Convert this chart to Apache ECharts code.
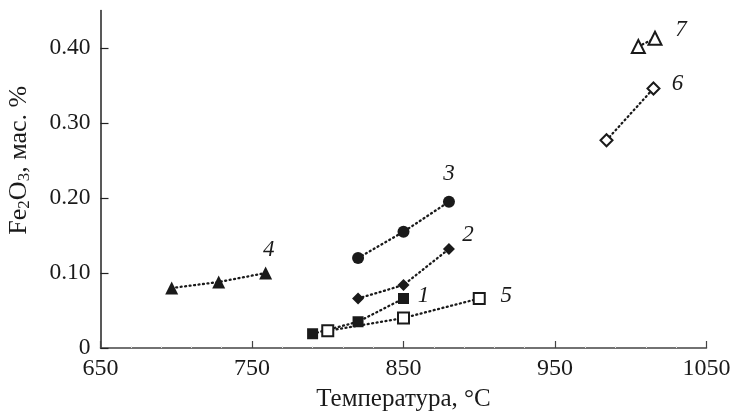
<!DOCTYPE html>
<html>
<head>
<meta charset="utf-8">
<script src="https://cdn.jsdelivr.net/npm/echarts@6/dist/echarts.min.js"></script>
<style>
  html, body { margin: 0; padding: 0; background: #fff; }
  #chart { width: 731px; height: 412px; }
</style>
</head>
<body>
<div id="chart"></div>
<script>
// data
const seriesNames = ['1', '2', '3', '4', '5', '6', '7'];
const temp1 = [790, 820, 850];
const fe1 = [0.019, 0.035, 0.066];
const temp2 = [820, 850, 880];
const fe2 = [0.066, 0.084, 0.132];
const temp3 = [820, 850, 880];
const fe3 = [0.120, 0.155, 0.195];
const temp4 = [697, 728, 759];
const fe4 = [0.080, 0.088, 0.100];
const temp5 = [800, 850, 900];
const fe5 = [0.023, 0.040, 0.066];
const temp6 = [984, 1015];
const fe6 = [0.277, 0.346];
const temp7 = [1005, 1016];
const fe7 = [0.402, 0.413];
const xTicks = [650, 750, 850, 950, 1050];
const yTicks = [0, 0.1, 0.2, 0.3, 0.4];

const temps = [temp1, temp2, temp3, temp4, temp5, temp6, temp7];
const fes = [fe1, fe2, fe3, fe4, fe5, fe6, fe7];

const FONT = 'Liberation Serif';
const INK = '#1a1a1a';

// marker style per series
const styles = [
    { symbol: 'rect', size: 11, open: false, offset: [20, -3] },
    { symbol: 'diamond', size: 12, open: false, offset: [19, -14] },
    { symbol: 'circle', size: 12, open: false, offset: [0, -28] },
    { symbol: 'triangle', size: 13, open: false, offset: [3, -23] },
    { symbol: 'rect', size: 11, open: true, offset: [27, -3] },
    { symbol: 'diamond', size: 12, open: true, offset: [24, -5] },
    { symbol: 'triangle', size: 13, open: true, offset: [26, -8] },
];

const series = seriesNames.map((name, i) => {
    const st = styles[i];
    const xs = temps[i];
    const data = xs.map((t, j) => {
        const item = { value: [t, fes[i][j]] };
        if (j === xs.length - 1) {
            item.label = {
                show: true,
                position: 'inside',
                offset: st.offset,
                formatter: name,
                fontFamily: FONT,
                fontStyle: 'italic',
                fontSize: 23,
                color: INK,
            };
        }
        return item;
    });
    return {
        name,
        type: 'line',
        data,
        symbol: st.symbol,
        symbolSize: st.size,
        showAllSymbol: true,
        itemStyle: {
            color: st.open ? '#fff' : INK,
            borderColor: INK,
            borderWidth: st.open ? 2 : 0,
        },
        lineStyle: { color: INK, width: 2.3, type: [1, 3.5], cap: 'round' },
        emphasis: { disabled: true },
        z: 2 + i,
    };
});

const chart = echarts.init(document.getElementById('chart'), null, { renderer: 'canvas' });

chart.setOption({
    animation: false,
    backgroundColor: '#fff',
    textStyle: { fontFamily: FONT, color: INK },
    grid: { left: 100.5, right: 24.5, top: 10.5, bottom: 64, outerBoundsMode: 'none', containLabel: false },
    xAxis: {
        type: 'value',
        min: 650,
        max: 1050,
        interval: 100,
        name: 'Температура, °C',
        nameLocation: 'middle',
        nameGap: 39,
        nameTextStyle: { fontFamily: FONT, fontSize: 25, color: INK },
        axisLine: { lineStyle: { color: '#444', width: 1.5 } },
        axisTick: { inside: true, length: 7, lineStyle: { color: '#444', width: 1.2 } },
        minorTick: { show: true, splitNumber: 5, length: 2, lineStyle: { color: '#e4e4e4' } },
        axisLabel: {
            margin: 9,
            fontFamily: FONT,
            fontSize: 24,
            color: INK,
            customValues: xTicks,
            formatter: (v) => String(v),
        },
        splitLine: { show: false },
    },
    yAxis: {
        type: 'value',
        min: 0,
        max: 0.45,
        name: 'Fe{sub|2}O{sub|3}, мас. %',
        nameLocation: 'middle',
        nameGap: 67,
        nameTextStyle: {
            fontFamily: FONT,
            fontSize: 26,
            color: INK,
            lineHeight: 28,
            padding: [0, 0, 0, 38],
            rich: {
                sub: { fontFamily: FONT, fontSize: 17, color: INK, verticalAlign: 'bottom', lineHeight: 28 },
            },
        },
        axisLine: { show: true, lineStyle: { color: '#222', width: 1.5 } },
        axisTick: {
            show: true,
            inside: true,
            length: 8,
            lineStyle: { color: '#222', width: 1.2 },
            customValues: yTicks,
        },
        axisLabel: {
            margin: 10,
            fontFamily: FONT,
            fontSize: 23.5,
            color: INK,
            customValues: yTicks,
            formatter: (v) => (v === 0 ? '0' : v.toFixed(2)),
        },
        splitLine: { show: false },
    },
    series,
});

const resizeObserver = new ResizeObserver(() => chart.resize());
resizeObserver.observe(document.getElementById('chart'));
</script>
</body>
</html>
